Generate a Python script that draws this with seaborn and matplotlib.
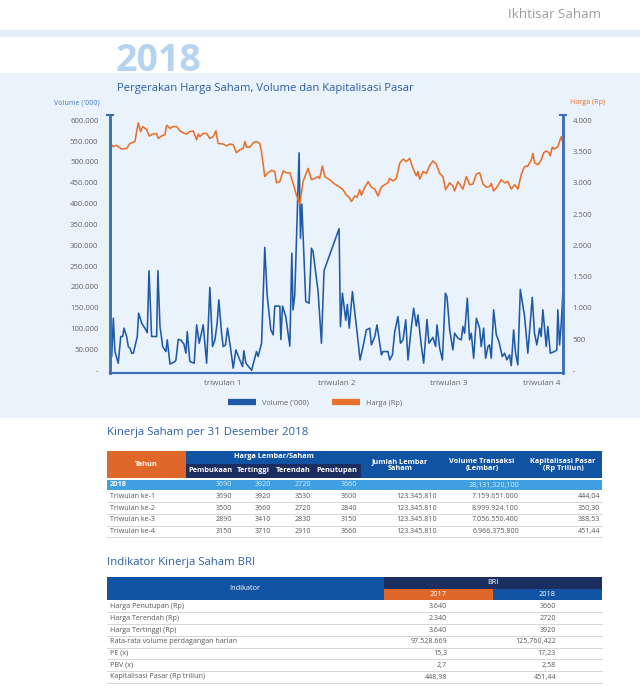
import matplotlib
matplotlib.use("Agg")
import matplotlib.pyplot as plt
import seaborn as sns
import pandas as pd
from matplotlib.patches import Rectangle
from matplotlib.lines import Line2D
from matplotlib.ticker import FuncFormatter

# --- data grafik (hari ke-, nilai) ---
harga_hari = [0, 2.7, 5.4, 9.5, 13.5, 16.2, 20.2, 22.9, 24.8, 26.5,
              29.7, 31.8, 35, 37.8, 39.1, 41.8, 44.5, 45.9, 48.6, 51.2,
              54, 56.7, 59.3, 62.1, 64.7, 67.4, 70.2, 71.5, 72.8, 75.5,
              78.3, 80.9, 83.6, 85.8, 87.6, 91.7, 94.4, 97.1, 99.8, 102.5,
              105.2, 107.9, 109.3, 110.6, 113.3, 116, 118.7, 121.4, 122.7, 125.4,
              128.1, 130.8, 133.5, 134.9, 137.6, 140.3, 143, 145.7, 148.4, 151.1,
              153.8, 156.4, 160.5, 163.2, 165.9, 168.6, 169.9, 172.1, 174, 178,
              182.1, 186.2, 188.8, 191.6, 193.7, 195.6, 198.3, 200.2, 202.3, 203.7,
              206.4, 209.1, 211.8, 214.5, 217.2, 219.8, 222.5, 225.2, 226.5, 229.3,
              232, 234.7, 237.4, 240.1, 242.8, 245.5, 248.2, 249.5, 250.9, 253.6,
              256.3, 258.9, 261.6, 264.3, 267.1, 269.7, 271.9, 275.2, 277.8, 279.2,
              281.9, 284.6, 285.9, 288.7, 291.4, 294, 296.8, 299.5, 302.2, 304.9,
              307.5, 308.9, 310.8, 313.5, 317, 319.7, 322.4, 325.1, 327.8, 330.5,
              333.3, 335.9, 338.6, 341.4, 342.6, 344, 346.7, 349.5, 351.3, 353.5,
              355.6, 356.7, 358.3, 360.2, 362.8, 364.2, 365.6, 366.9]
harga_rp = [3630, 3580, 3600, 3540, 3550, 3630, 3660, 3960, 3820, 3900,
            3850, 3750, 3780, 3790, 3710, 3750, 3770, 3920, 3870, 3900,
            3900, 3830, 3800, 3780, 3820, 3830, 3690, 3780, 3740, 3790,
            3790, 3710, 3740, 3830, 3630, 3620, 3590, 3620, 3610, 3480,
            3530, 3550, 3660, 3570, 3570, 3640, 3660, 3630, 3500, 3100,
            3160, 3200, 3180, 3000, 3020, 3190, 3160, 3160, 2990, 2800,
            2660, 3020, 3230, 3050, 3070, 3100, 3070, 3270, 3100, 3050,
            2980, 2930, 2890, 2800, 2770, 2700, 2790, 2770, 2890, 2800,
            2930, 3020, 2930, 2900, 2790, 2930, 2970, 3000, 3070, 3030,
            3070, 3310, 3380, 3340, 3390, 3230, 3110, 3180, 3060, 3180,
            3150, 3270, 3350, 3300, 3150, 3100, 2890, 3000, 2950, 2870,
            3020, 2940, 2900, 3100, 2970, 2980, 3140, 3160, 2980, 2930,
            2940, 2990, 2870, 2930, 3050, 3000, 3020, 2900, 2970, 2900,
            3140, 3260, 3270, 3370, 3470, 3320, 3290, 3370, 3480, 3510,
            3480, 3430, 3570, 3540, 3580, 3660, 3740, 3630]

volume_hari = [0, 1.4, 2.7, 4, 6.7, 8.7, 10.3, 11.3, 13.5, 14.8,
               16.2, 17.6, 18.9, 22.1, 23.2, 25.7, 28.3, 30.2, 31.6, 33.7,
               37.8, 38.8, 40.5, 42.7, 45.3, 46.4, 48.6, 52.6, 53.4, 55.3,
               57.2, 59.9, 61.5, 62.6, 64.7, 68.2, 70.2, 72.3, 75.5, 78.3,
               80.9, 83.1, 85, 86.8, 88.2, 90.4, 91.7, 93.6, 95.2, 97.7,
               99.8, 102, 104.6, 107.4, 108.4, 110.1, 114.7, 118.7, 120, 122.8,
               125.4, 127.3, 130.3, 132.2, 133.5, 137.6, 138.4, 139.8, 142.4, 145.7,
               147.3, 148.3, 149.7, 153.2, 154.3, 155.4, 158.6, 161.3, 163.2, 164.5,
               168.6, 171.3, 173.4, 185.6, 186.7, 188.3, 191, 192.3, 193.8, 196.4,
               200.1, 202.6, 205, 207.7, 210.4, 211.8, 214.5, 216.3, 217.9, 219.9,
               221.2, 225.2, 226.6, 228.8, 230.7, 233.3, 235.3, 237.4, 239.6, 241.4,
               244.2, 246, 248.2, 249.5, 252.3, 254.1, 256.8, 258.4, 261.6, 263.8,
               264.9, 267.1, 269.3, 271.7, 273, 275.2, 277.8, 279.2, 281.9, 284.6,
               285.9, 287.3, 289.5, 291.3, 292.7, 294.6, 296.8, 299.4, 300.8, 302.7,
               304.3, 306.2, 307.5, 308.9, 310.8, 313, 315.1, 317.8, 319.7, 321.5,
               323.7, 325.1, 327, 328.6, 330.4, 332.4, 335.9, 338.5, 342.1, 343.9,
               345.8, 348, 349.3, 350.7, 353.4, 354.7, 356.7, 360.1, 362, 362.8,
               364.2, 365.6, 366.9]
volume_ribu = [57000, 33000, 125000, 45000, 17000, 81000, 81000, 101000, 81000, 57000,
               53000, 41000, 41000, 81000, 137000, 113000, 101000, 90000, 239000, 81000,
               81000, 239000, 105000, 57000, 45000, 73000, 15000, 21000, 25000, 74000,
               73000, 63000, 41000, 93000, 21000, 17000, 109000, 65000, 109000, 17000,
               199000, 57000, 73000, 113000, 169000, 89000, 57000, 61000, 101000, 53000,
               5000, 49000, 29000, 9000, 47000, 17000, 0, 45000, 33000, 65000,
               295000, 181000, 97000, 85000, 154000, 154000, 74000, 154000, 129000, 58000,
               281000, 145000, 181000, 522000, 317000, 399000, 165000, 161000, 293000, 285000,
               189000, 65000, 239000, 340000, 105000, 185000, 120000, 158000, 101000, 189000,
               93000, 25000, 57000, 97000, 101000, 61000, 81000, 109000, 77000, 37000,
               45000, 45000, 25000, 37000, 93000, 129000, 65000, 73000, 121000, 25000,
               105000, 149000, 106000, 133000, 57000, 17000, 122000, 65000, 79000, 57000,
               109000, 53000, 25000, 185000, 177000, 97000, 49000, 89000, 77000, 73000,
               105000, 89000, 173000, 73000, 89000, 29000, 125000, 101000, 57000, 101000,
               29000, 57000, 61000, 29000, 145000, 85000, 69000, 33000, 41000, 25000,
               37000, 11000, 97000, 41000, 13000, 194000, 129000, 41000, 175000, 89000,
               61000, 101000, 81000, 145000, 57000, 105000, 41000, 45000, 49000, 145000,
               61000, 113000, 185000]

triwulan_hari = [0, 91.5, 183.7, 274.4, 365]
triwulan_label = ["", "triwulan 1", "triwulan 2", "triwulan 3", "triwulan 4"]
volume_tick = [0, 50000, 100000, 150000, 200000, 250000, 300000, 350000,
               400000, 450000, 500000, 550000, 600000]
harga_tick = [0, 500, 1000, 1500, 2000, 2500, 3000, 3500, 4000]

# --- data tabel ---
kolom_harga = ["Pembukaan", "Tertinggi", "Terendah", "Penutupan"]
harga_2018 = ["3690", "3920", "2720", "3660"]
volume_2018 = "28,131,320,100"
baris_triwulan = ["Triwulan ke-1", "Triwulan ke-2", "Triwulan ke-3", "Triwulan ke-4"]
harga_triwulan = [["3690", "3920", "3530", "3600"],
                  ["3500", "3660", "2720", "2840"],
                  ["2890", "3410", "2830", "3150"],
                  ["3150", "3710", "2910", "3660"]]
jumlah_lembar = ["123.345.810", "123.345.810", "123.345.810", "123.345.810"]
volume_transaksi = ["7.159.651.000", "8.999.924.100", "7.056.550.400", "6.966.375.800"]
kapitalisasi = ["444,04", "350,30", "388,53", "451,44"]

indikator = ["Harga Penutupan (Rp)", "Harga Terendah (Rp)", "Harga Tertinggi (Rp)",
             "Rata-rata volume perdagangan harian", "PE (x)", "PBV (x)",
             "Kapitalisasi Pasar (Rp triliun)"]
nilai_2017 = ["3.640", "2.340", "3.640", "97.528.669", "15,3", "2,7", "448,98"]
nilai_2018 = ["3660", "2720", "3920", "125,760,422", "17,23", "2,58", "451,44"]

# --- warna ---
BIRU = "#1f5aa8"
SUMBU = "#3d6fb6"
ORANYE = "#e8702a"
PANEL = "#eaf2fb"
HEADER = "#1153a3"
NAVY = "#1c2d5f"
ORANYE_TBL = "#e0672a"
BIRU_MUDA = "#3f9fe0"
ABU = "#555555"
GARIS = "#d0d0d0"

sns.set_style("white")
plt.rcParams["font.family"] = ["Open Sans", "DejaVu Sans"]

fig = plt.figure(figsize=(6.4, 7), dpi=100)

# latar halaman dalam koordinat piksel
bg = fig.add_axes([0, 0, 1, 1], zorder=0)
bg.set_xlim(0, 640)
bg.set_ylim(700, 0)
bg.axis("off")


def kotak(x0, y0, x1, y1, warna):
    bg.add_patch(Rectangle((x0, y0), x1 - x0, y1 - y0, facecolor=warna, lw=0))


def teks(x, y, s, **kw):
    kw.setdefault("fontsize", 5.1)
    kw.setdefault("va", "center")
    kw.setdefault("color", ABU)
    bg.text(x, y, s, **kw)


def garis(y):
    bg.plot([107, 602], [y, y], color=GARIS, lw=0.6)


# header halaman
teks(601, 14, "Ikhtisar Saham", fontsize=9.6, color="#9c9c9c", ha="right")
kotak(0, 30, 640, 37, "#e6eff9")
kotak(0, 73, 640, 418, PANEL)
teks(116, 71, "2018", fontsize=27, fontweight="bold", color="#b6d4f0", va="baseline")
teks(117, 88, "Pergerakan Harga Saham, Volume dan Kapitalisasi Pasar",
     fontsize=8.1, color="#2a5ea8")
teks(100, 103, "Volume ('000)", fontsize=5.1, color="#4a7cc0", ha="right")
teks(570, 103, "Harga (Rp)", fontsize=5.1, color=ORANYE, ha="left")

# --- grafik ---
ax = fig.add_axes([109.5 / 640, 1 - 373 / 700, 453.5 / 640, 258 / 700], zorder=2)
ax2 = ax.twinx()
ax2.set_zorder(3)
ax.patch.set_visible(False)
ax2.patch.set_visible(False)

df_vol = pd.DataFrame({"hari": volume_hari, "volume": volume_ribu})
df_harga = pd.DataFrame({"hari": harga_hari, "harga": harga_rp})
sns.lineplot(data=df_vol, x="hari", y="volume", ax=ax, color=BIRU, lw=1.15)
sns.lineplot(data=df_harga, x="hari", y="harga", ax=ax2, color=ORANYE, lw=1.15)

ax.set_xlim(-0.4, 367)
ax.set_ylim(-6500, 612700)
ax2.set_ylim(-43, 4085)


def format_titik(v, pos):
    if v == 0:
        return "-"
    return f"{int(v):,}".replace(",", ".")


ax.set_yticks(volume_tick)
ax.yaxis.set_major_formatter(FuncFormatter(format_titik))
ax2.set_yticks(harga_tick)
ax2.yaxis.set_major_formatter(FuncFormatter(format_titik))
ax.set_xticks(triwulan_hari)
ax.set_xticklabels(triwulan_label)
ax.xaxis.get_majorticklabels()[-1].set_horizontalalignment("right")
ax.set_xlabel("")
ax.set_ylabel("")
ax2.set_ylabel("")

ax.tick_params(axis="y", length=0, pad=8, labelsize=5.6, labelcolor="#666666")
ax2.tick_params(axis="y", length=0, pad=7, labelsize=5.6, labelcolor="#666666")
ax.tick_params(axis="x", direction="in", length=5, width=1.5, color=SUMBU,
               pad=5, labelsize=5.8, labelcolor="#666666")

for a in (ax, ax2):
    a.spines["top"].set_visible(False)
    a.spines["left"].set_color(SUMBU)
    a.spines["right"].set_color(SUMBU)
    a.spines["bottom"].set_color(SUMBU)
    a.spines["left"].set_linewidth(1.8)
    a.spines["right"].set_linewidth(1.8)
    a.spines["bottom"].set_linewidth(1.5)
    a.grid(False)

# topi kecil di ujung atas sumbu
ax.plot([0, 1], [1, 1], transform=ax.transAxes, ls="none", marker="_",
        ms=6, mew=1.5, color=SUMBU, clip_on=False)

legenda = [Line2D([], [], color=BIRU, lw=4.5, solid_capstyle="butt"),
           Line2D([], [], color=ORANYE, lw=4.5, solid_capstyle="butt")]
ax2.legend(legenda, ["Volume ('000)", "Harga (Rp)"], ncol=2, loc="center",
           bbox_to_anchor=(315 / 640, 1 - 403 / 700), bbox_transform=fig.transFigure,
           frameon=False, fontsize=5.3, handlelength=3.8, handletextpad=0.8,
           columnspacing=3.2, labelcolor="#666666")

# --- tabel kinerja saham ---
teks(107, 433, "Kinerja Saham per 31 Desember 2018", fontsize=8.2, color="#2a5ea8")
kotak(107, 451, 186, 478, ORANYE_TBL)
kotak(186, 451, 602, 478, HEADER)
kotak(186, 464, 361, 478, NAVY)
hb = dict(color="white", fontweight="bold", fontsize=5.3, ha="center")
teks(146.5, 464.5, "Tahun", **hb)
teks(273.5, 457, "Harga Lembar/Saham", **hb)
for xc, nama in zip([210, 253, 293, 337], kolom_harga):
    teks(xc, 471, nama, **hb)
teks(400, 465, "Jumlah Lembar\nSaham", linespacing=1.0, **hb)
teks(482, 465, "Volume Transaksi\n(Lembar)", linespacing=1.0, **hb)
teks(563, 465, "Kapitalisasi Pasar\n(Rp Triliun)", linespacing=1.0, **hb)

kanan_harga = [232, 271, 311, 357]
kotak(107, 480, 602, 490, BIRU_MUDA)
teks(110, 485, "2018", color="white", fontweight="bold", fontsize=5.3)
for xr, v in zip(kanan_harga, harga_2018):
    teks(xr, 485, v, color="#dcefff", ha="right")
teks(519, 485, volume_2018, color="#dcefff", ha="right")

for i, label in enumerate(baris_triwulan):
    yc = 496.5 + i * 11.7
    teks(110, yc, label)
    for xr, v in zip(kanan_harga, harga_triwulan[i]):
        teks(xr, yc, v, ha="right")
    teks(437, yc, jumlah_lembar[i], ha="right")
    teks(519, yc, volume_transaksi[i], ha="right")
    teks(600, yc, kapitalisasi[i], ha="right")
    garis(yc + 5.8)

# --- tabel indikator ---
teks(107, 562, "Indikator Kinerja Saham BRI", fontsize=8.2, color="#2a5ea8")
kotak(107, 577, 384, 600, HEADER)
kotak(384, 577, 602, 588.5, NAVY)
kotak(384, 588.5, 493, 600, ORANYE_TBL)
kotak(493, 588.5, 602, 600, HEADER)
teks(245, 588.5, "Indikator", color="white", ha="center", fontsize=5.3)
teks(493, 582.5, "BRI", color="white", ha="center", fontsize=5.3)
teks(438.5, 594.5, "2017", color="white", ha="center", fontsize=5.3)
teks(547.5, 594.5, "2018", color="white", ha="center", fontsize=5.3)

for i, label in enumerate(indikator):
    yc = 606.5 + i * 11.75
    teks(110, yc, label)
    teks(447, yc, nilai_2017[i], ha="right")
    teks(556, yc, nilai_2018[i], ha="right")
    garis(yc + 5.8)

fig.savefig("out.png", dpi=100, facecolor="white")
